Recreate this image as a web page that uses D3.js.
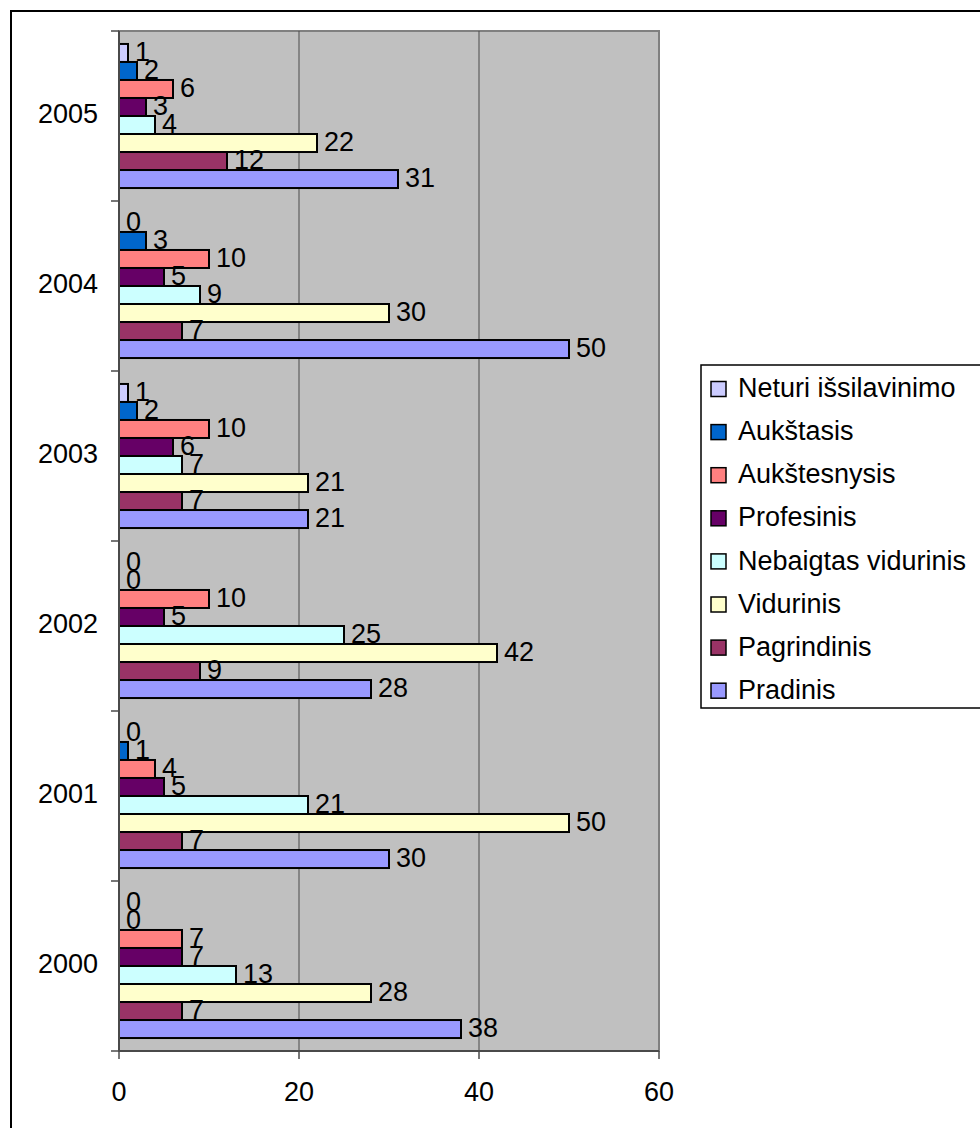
<!DOCTYPE html>
<html>
<head>
<meta charset="utf-8">
<script src="https://cdn.jsdelivr.net/npm/d3@7"></script>
<style>
  body { margin: 0; background: #fff; }
  svg { display: block; font-family: "Liberation Sans", Arial, sans-serif; }
</style>
</head>
<body>
<svg id="chart" width="980" height="1128"></svg>
<script>
// years from top to bottom as drawn
var years = ['2005', '2004', '2003', '2002', '2001', '2000'];

var seriesNames = ['Neturi išsilavinimo', 'Aukštasis', 'Aukštesnysis', 'Profesinis',
                   'Nebaigtas vidurinis', 'Vidurinis', 'Pagrindinis', 'Pradinis'];

var seriesColors = ['#CCCCFF', '#0066CC', '#FF8080', '#660066',
                    '#CCFFFF', '#FFFFCC', '#993366', '#9999FF'];

// values per year, in the seriesNames order
var v2005 = [1, 2, 6, 3, 4, 22, 12, 31];
var v2004 = [0, 3, 10, 5, 9, 30, 7, 50];
var v2003 = [1, 2, 10, 6, 7, 21, 7, 21];
var v2002 = [0, 0, 10, 5, 25, 42, 9, 28];
var v2001 = [0, 1, 4, 5, 21, 50, 7, 30];
var v2000 = [0, 0, 7, 7, 13, 28, 7, 38];

var xTicks = [0, 20, 40, 60];

var valuesByYear = {'2005': v2005, '2004': v2004, '2003': v2003,
                    '2002': v2002, '2001': v2001, '2000': v2000};

var svg = d3.select('#chart');

var plot = {left: 119, right: 659, top: 31, bottom: 1051};
var fontSize = '27px';

// outer chart frame (runs off the right and bottom of the picture)
svg.append('rect')
  .attr('x', 11).attr('y', 11)
  .attr('width', 1000).attr('height', 1140)
  .style('fill', 'none')
  .style('stroke', '#000')
  .style('stroke-width', 2);

var x = d3.scaleLinear().domain([0, 60]).range([plot.left, plot.right]);

var y = d3.scaleBand().domain(years).range([plot.top, plot.bottom]);

var yInner = d3.scaleBand().domain(seriesNames)
  .range([0, y.bandwidth()])
  .paddingInner(0)
  .paddingOuter(0.72);

// plot background
svg.append('rect')
  .attr('x', plot.left).attr('y', plot.top)
  .attr('width', plot.right - plot.left)
  .attr('height', plot.bottom - plot.top)
  .style('fill', '#C0C0C0')
  .style('stroke', '#808080')
  .style('stroke-width', 2);

// vertical gridlines
svg.selectAll('.grid')
  .data(xTicks.filter(function(d){ return d > 0 && d < 60; }))
  .enter().append('line')
  .attr('x1', function(d){ return x(d); })
  .attr('x2', function(d){ return x(d); })
  .attr('y1', plot.top).attr('y2', plot.bottom)
  .style('stroke', '#4a4a4a')
  .style('stroke-width', 1);

// bars
var groups = svg.selectAll('.year')
  .data(years)
  .enter().append('g')
  .attr('class', 'year')
  .attr('transform', function(d){ return 'translate(0,' + y(d) + ')'; });

var cells = function(yr){
  return seriesNames.map(function(s, i){
    return {name: s, value: valuesByYear[yr][i], color: seriesColors[i]};
  });
};

groups.selectAll('rect')
  .data(function(d){ return cells(d); })
  .enter().append('rect')
  .attr('x', x(0))
  .attr('y', function(d){ return yInner(d.name); })
  .attr('width', function(d){ return x(d.value) - x(0); })
  .attr('height', yInner.bandwidth())
  .style('fill', function(d){ return d.color; })
  .style('stroke', function(d){ return d.value > 0 ? '#000' : 'none'; })
  .style('stroke-width', 2);

groups.selectAll('text')
  .data(function(d){ return cells(d); })
  .enter().append('text')
  .attr('x', function(d){ return x(d.value) + 7; })
  .attr('y', function(d){ return yInner(d.name) + yInner.bandwidth() / 2; })
  .attr('dy', '0.28em')
  .style('font-size', fontSize)
  .style('fill', '#000')
  .text(function(d){ return d.value; });

// left axis line, ticks at band boundaries
svg.append('line')
  .attr('x1', plot.left).attr('x2', plot.left)
  .attr('y1', plot.top).attr('y2', plot.bottom)
  .style('stroke', '#4a4a4a').style('stroke-width', 2);

var bounds = years.map(function(d){ return y(d); }).concat([plot.bottom]);
svg.selectAll('.ytick')
  .data(bounds)
  .enter().append('line')
  .attr('x1', plot.left - 8).attr('x2', plot.left)
  .attr('y1', function(d){ return d; })
  .attr('y2', function(d){ return d; })
  .style('stroke', '#4a4a4a').style('stroke-width', 1.5);

svg.selectAll('.ylabel')
  .data(years)
  .enter().append('text')
  .attr('x', 98)
  .attr('y', function(d){ return y(d) + y.bandwidth() / 2; })
  .attr('dy', '0.27em')
  .attr('text-anchor', 'end')
  .style('font-size', fontSize)
  .text(function(d){ return d; });

// bottom axis
svg.append('line')
  .attr('x1', plot.left).attr('x2', plot.right)
  .attr('y1', plot.bottom).attr('y2', plot.bottom)
  .style('stroke', '#4a4a4a').style('stroke-width', 2);

svg.selectAll('.xtick')
  .data(xTicks)
  .enter().append('line')
  .attr('x1', function(d){ return x(d); })
  .attr('x2', function(d){ return x(d); })
  .attr('y1', plot.bottom).attr('y2', plot.bottom + 8)
  .style('stroke', '#4a4a4a').style('stroke-width', 1.5);

svg.selectAll('.xlabel')
  .data(xTicks)
  .enter().append('text')
  .attr('x', function(d){ return x(d); })
  .attr('y', 1101)
  .attr('text-anchor', 'middle')
  .style('font-size', fontSize)
  .text(function(d){ return d; });

// legend
var legend = svg.append('g').attr('transform', 'translate(701,365)');

legend.append('rect')
  .attr('x', 0).attr('y', 0)
  .attr('width', 300).attr('height', 343)
  .style('fill', '#fff')
  .style('stroke', '#000')
  .style('stroke-width', 1.5);

var item = legend.selectAll('.item')
  .data(seriesNames)
  .enter().append('g')
  .attr('transform', function(d, i){ return 'translate(0,' + (24 + i * 43.1) + ')'; });

item.append('rect')
  .attr('x', 10).attr('y', -7.5)
  .attr('width', 15).attr('height', 15)
  .style('fill', function(d, i){ return seriesColors[i]; })
  .style('stroke', '#000')
  .style('stroke-width', 1.5);

item.append('text')
  .attr('x', 37)
  .attr('dy', '0.3em')
  .style('font-size', fontSize)
  .text(function(d){ return d; });
</script>
</body>
</html>
